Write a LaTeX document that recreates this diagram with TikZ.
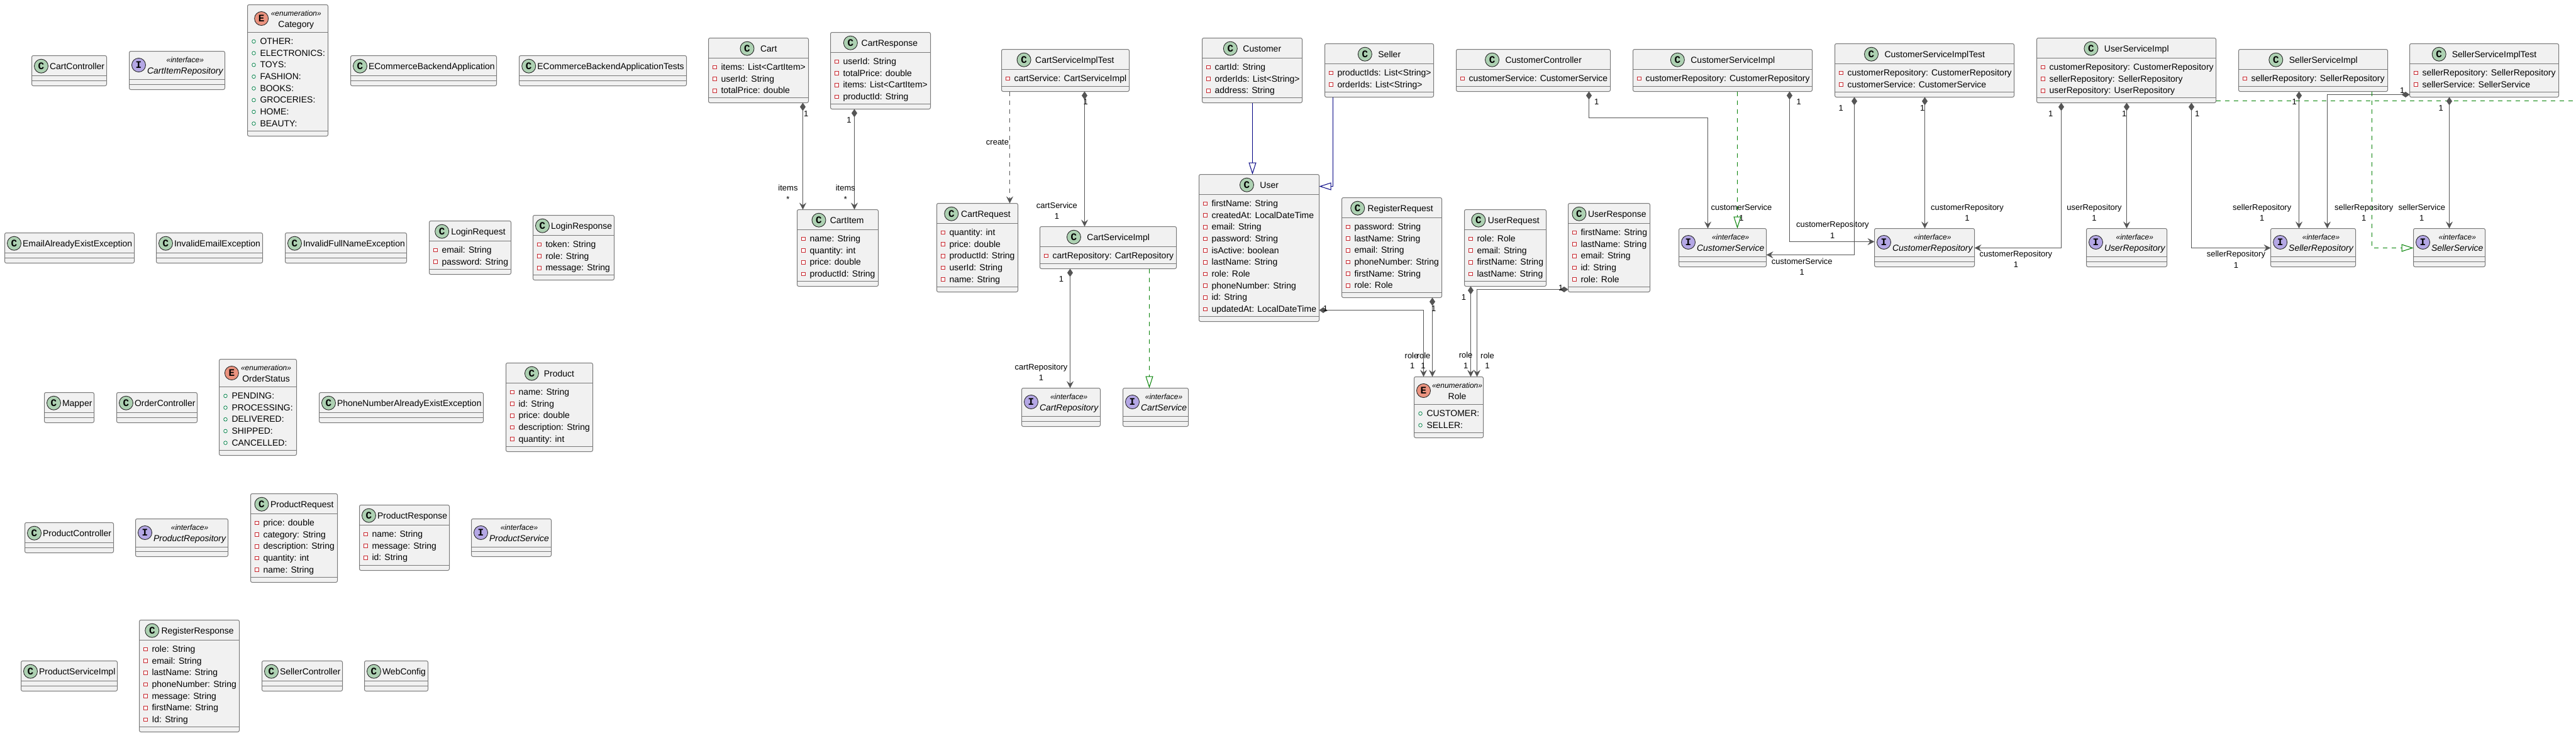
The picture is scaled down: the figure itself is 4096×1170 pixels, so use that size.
\documentclass[tikz,border=0pt]{standalone}
\usepackage{fontspec}
\setmainfont{Liberation Sans}
\newfontfamily\glyphfam{Liberation Mono}
\usetikzlibrary{arrows.meta}
\definecolor{boxfill}{HTML}{F1F1F1}
\definecolor{boxline}{HTML}{787878}
\definecolor{ln}{HTML}{555555}
\definecolor{cC}{HTML}{ADD1B2}
\definecolor{cI}{HTML}{B4A7E5}
\definecolor{cE}{HTML}{EB937F}
\definecolor{privred}{HTML}{C82930}
\definecolor{pubgreen}{HTML}{038048}
\definecolor{implgreen}{HTML}{008000}
\definecolor{extblue}{HTML}{000082}
\newsavebox\measbox
\newlength\measlen
\newcounter{lblno}
\newcommand{\measure}[2]{\pgfinterruptpicture\sbox\measbox{#2}\global\measlen=\wd\measbox\endpgfinterruptpicture\pgfmathsetmacro#1{\measlen}}
\tikzset{
  umlbox/.style={draw=boxline,fill=boxfill,line width=1pt,rounded corners=2.5pt,inner sep=0pt,outer sep=0pt,anchor=north west},
  umlsep/.style={draw=boxline,line width=1pt},
  classicon/.style={circle,draw=black!85,line width=0.9pt,minimum size=22pt,inner sep=0pt,outer sep=0pt,font=\glyphfam\bfseries\fontsize{16}{16}\selectfont},
  titletxt/.style={inner sep=0pt,outer sep=0pt,anchor=base,font=\fontsize{14}{16}\selectfont},
  stereotxt/.style={inner sep=0pt,outer sep=0pt,anchor=base,font=\itshape\fontsize{12}{14}\selectfont},
  attrtxt/.style={inner sep=0pt,outer sep=0pt,anchor=base west,font=\fontsize{14}{16}\selectfont},
  lbl/.style={inner sep=0pt,outer sep=0pt,anchor=center,text height=9.5pt,text depth=2.5pt,font=\fontsize{13}{15}\selectfont},
  conn/.style={draw=ln,line width=1pt},
  comp/.style={conn,{Diamond[length=13pt,width=9pt,fill=ln]}-{Stealth[length=11pt,width=11pt,inset=4pt,fill=ln]}},
  depend/.style={conn,dash pattern=on 7pt off 7pt,-{Stealth[length=11pt,width=11pt,inset=4pt,fill=ln]}},
  extendarrow/.style={draw=extblue,line width=1pt,-{Triangle[length=19pt,width=12pt,fill=white]}},
  implarrow/.style={draw=implgreen,line width=1pt,dash pattern=on 7pt off 7pt,-{Triangle[length=19pt,width=12pt,fill=white]}},
}
% id, kind, x1, top, x2, bottom, title, attributes
\newcommand{\umlclass}[8]{%
  \begingroup
  \ifx C#2%
    \def\hdr{32}\def\icony{16.7}\def\titley{22}\def\stereotext{}\def\titlefont{}%
  \else\ifx I#2%
    \def\hdr{45}\def\icony{22}\def\titley{36}\def\stereotext{«interface»}\def\titlefont{\itshape}%
  \else
    \def\hdr{44}\def\icony{22}\def\titley{36}\def\stereotext{«enumeration»}\def\titlefont{}%
  \fi\fi
  \measure\tw{\fontsize{14}{16}\selectfont\titlefont #7}%
  \measure\sw{\fontsize{12}{14}\selectfont\itshape\stereotext}%
  \pgfmathsetmacro\nw{max(\tw,\sw)}%
  \pgfmathsetmacro\xa{floor(#3)+0.5}%
  \pgfmathsetmacro\xb{floor(#5)+0.5}%
  \pgfmathsetmacro\ya{#4+0.2}%
  \pgfmathsetmacro\bxW{\xb-\xa}%
  \pgfmathsetmacro\bxH{#6-#4}%
  \pgfmathsetmacro\supp{max(0,\bxW-(32+\nw))}%
  \pgfmathsetmacro\hb{min(7.5,0.1*\supp)}%
  \pgfmathsetmacro\ha{(\supp-\hb)/2}%
  \pgfmathsetmacro\cx{\xa+\ha+15}%
  \pgfmathsetmacro\nx{\xa+\ha+28.5+\hb+\nw/2}%
  \node[umlbox,minimum width=\bxW pt,minimum height=\bxH pt] (#1) at (\xa,\ya) {};
  \draw[umlsep] ([yshift=-\hdr pt]#1.north west) -- ([yshift=-\hdr pt]#1.north east);
  \draw[umlsep] ([yshift=8pt]#1.south west) -- ([yshift=8pt]#1.south east);
  \node[classicon,fill=c#2] (#1-icon) at (\cx,\ya+\icony) {#2};
  \node[titletxt,font=\fontsize{14}{16}\selectfont\titlefont] (#1-title) at (\nx,\ya+\titley) {#7};
  \ifx C#2\else
    \node[stereotxt] (#1-stereo) at (\nx,\ya+17.5) {\stereotext};
  \fi
  \def\attrlist{#8}%
  \ifx\attrlist\empty\else
    \foreach \a [count=\i from 0] in {#8}{%
      \pgfmathsetmacro\by{\ya+\hdr+19+18.67*\i}%
      \node[attrtxt] (#1-a\i) at (\xa+20,\by) {\a};
      \ifx E#2%
        \draw[pubgreen,line width=0.8pt,fill=white] (\xa+10,\by-4.6) circle (2.8pt);
      \else
        \draw[privred,line width=0.8pt,fill=white] (\xa+7.2,\by-7.4) rectangle (\xa+12.8,\by-1.8);
      \fi
    }%
  \fi
  \endgroup
}
\newcommand{\lab}[3]{\stepcounter{lblno}\node[lbl] (lab\arabic{lblno}) at (#1,#2) {#3};}
\begin{document}
\begin{tikzpicture}[x=1pt,y=-1pt]
\path[use as bounding box] (0,0) rectangle (4096,1170);
% column of isolated classes
\umlclass{CartController}{C}{50.5}{88.3}{169}{136.3}{CartController}{}
\umlclass{CartItemRepository}{I}{205}{81.3}{357}{142.3}{CartItemRepository}{}
\umlclass{Category}{E}{393}{7.3}{521}{216.3}{Category}{OTHER:,ELECTRONICS:,TOYS:,FASHION:,BOOKS:,GROCERIES:,HOME:,BEAUTY:}
\umlclass{EBA}{C}{557}{88.3}{789}{136.3}{ECommerceBackendApplication}{}
\umlclass{EBAT}{C}{825}{88.3}{1091.5}{136.3}{ECommerceBackendApplicationTests}{}
\umlclass{EmailEx}{C}{7.7}{370.3}{213.6}{418.3}{EmailAlreadyExistException}{}
\umlclass{InvEmail}{C}{248.7}{370.3}{417.1}{418.3}{InvalidEmailException}{}
\umlclass{InvName}{C}{453.4}{370.3}{646.7}{418.3}{InvalidFullNameException}{}
\umlclass{LoginRequest}{C}{682.4}{351.3}{812.5}{436.3}{LoginRequest}{email: String,password: String}
\umlclass{LoginResponse}{C}{847.6}{342.3}{976.4}{445.3}{LoginResponse}{token: String,role: String,message: String}
\umlclass{Mapper}{C}{70.8}{624.3}{149.2}{672.3}{Mapper}{}
\umlclass{OrderController}{C}{185.6}{624.3}{313.1}{672.3}{OrderController}{}
\umlclass{OrderStatus}{E}{348.9}{571.3}{471.3}{724.3}{OrderStatus}{PENDING:,PROCESSING:,DELIVERED:,SHIPPED:,CANCELLED:}
\umlclass{PhoneEx}{C}{507.7}{624.3}{768.5}{672.3}{PhoneNumberAlreadyExistException}{}
\umlclass{Product}{C}{804.8}{577.3}{942.6}{718.3}{Product}{name: String,id: String,price: double,description: String,quantity: int}
\umlclass{ProductController}{C}{39.5}{831.3}{180.5}{879.3}{ProductController}{}
\umlclass{ProductRepository}{I}{215.6}{825.3}{362.9}{885.3}{ProductRepository}{}
\umlclass{ProductRequest}{C}{398.6}{785.3}{536.4}{926.3}{ProductRequest}{price: double,category: String,description: String,quantity: int,name: String}
\umlclass{ProductResponse}{C}{571.4}{803.3}{714.3}{907.3}{ProductResponse}{name: String,message: String,id: String}
\umlclass{ProductService}{I}{749.4}{825.3}{876.3}{885.3}{ProductService}{}
\umlclass{ProductServiceImpl}{C}{33.8}{1051.3}{186.9}{1099.3}{ProductServiceImpl}{}
\umlclass{RegisterResponse}{C}{221.9}{986.3}{380.7}{1164.3}{RegisterResponse}{role: String,email: String,lastName: String,phoneNumber: String,message: String,firstName: String,Id: String}
\umlclass{SellerController}{C}{416.5}{1051.3}{544.6}{1099.3}{SellerController}{}
\umlclass{WebConfig}{C}{579.7}{1051.3}{680.5}{1099.3}{WebConfig}{}
% connected classes
\umlclass{Cart}{C}{1126.8}{60.3}{1285.6}{163.3}{Cart}{items: List<CartItem>,userId: String,totalPrice: double}
\umlclass{CartResponse}{C}{1320.7}{51.3}{1479.5}{173.3}{CartResponse}{userId: String,totalPrice: double,items: List<CartItem>,productId: String}
\umlclass{CartServiceImplTest}{C}{1592.3}{78.3}{1795.2}{145.3}{CartServiceImplTest}{cartService: CartServiceImpl}
\umlclass{CartItem}{C}{1267.7}{333.3}{1396.6}{455.3}{CartItem}{name: String,quantity: int,price: double,productId: String}
\umlclass{CartRequest}{C}{1489.7}{323.3}{1618.5}{464.3}{CartRequest}{quantity: int,price: double,productId: String,userId: String,name: String}
\umlclass{CartServiceImpl}{C}{1653.6}{360.3}{1870.4}{427.3}{CartServiceImpl}{cartRepository: CartRepository}
\umlclass{CartRepository}{I}{1624.9}{617.3}{1749.2}{678.3}{CartRepository}{}
\umlclass{CartService}{I}{1785}{617.3}{1889.5}{678.3}{CartService}{}
\umlclass{Customer}{C}{1911.9}{60.3}{2070.7}{163.3}{Customer}{cartId: String,orderIds: List<String>,address: String}
\umlclass{Seller}{C}{2106.4}{69.3}{2279.2}{154.3}{Seller}{productIds: List<String>,orderIds: List<String>}
\umlclass{User}{C}{1906.8}{277.3}{2097.4}{511.3}{User}{firstName: String,createdAt: LocalDateTime,email: String,password: String,isActive: boolean,lastName: String,role: Role,phoneNumber: String,id: String,updatedAt: LocalDateTime}
\umlclass{RegisterRequest}{C}{2133.5}{314.3}{2292.3}{473.3}{RegisterRequest}{password: String,lastName: String,email: String,phoneNumber: String,firstName: String,role: Role}
\umlclass{UserRequest}{C}{2328}{333.3}{2458}{455.3}{UserRequest}{role: Role,email: String,firstName: String,lastName: String}
\umlclass{UserResponse}{C}{2493.9}{323.3}{2623.3}{464.3}{UserResponse}{firstName: String,lastName: String,email: String,id: String,role: Role}
\umlclass{Role}{E}{2248.3}{599.3}{2358.7}{696.3}{Role}{CUSTOMER:,SELLER:}
\umlclass{CustomerController}{C}{2315.6}{78.3}{2560.5}{145.3}{CustomerController}{customerService: CustomerService}
\umlclass{CustomerServiceImpl}{C}{2596.8}{78.3}{2881.2}{145.3}{CustomerServiceImpl}{customerRepository: CustomerRepository}
\umlclass{CustomerServiceImplTest}{C}{2917.6}{69.3}{3202.3}{154.3}{CustomerServiceImplTest}{customerRepository: CustomerRepository,customerService: CustomerService}
\umlclass{CustomerService}{I}{2669.5}{363.3}{2808.5}{424.3}{CustomerService}{}
\umlclass{CustomerRepository}{I}{2980.7}{363.3}{3139.4}{424.3}{CustomerRepository}{}
\umlclass{UserServiceImpl}{C}{3238.5}{60.3}{3523.7}{163.3}{UserServiceImpl}{customerRepository: CustomerRepository,sellerRepository: SellerRepository,userRepository: UserRepository}
\umlclass{SellerServiceImpl}{C}{3559.9}{78.3}{3796.2}{145.3}{SellerServiceImpl}{sellerRepository: SellerRepository}
\umlclass{SellerServiceImplTest}{C}{3831.7}{69.3}{4068}{154.3}{SellerServiceImplTest}{sellerRepository: SellerRepository,sellerService: SellerService}
\umlclass{UserRepository}{I}{3317.9}{363.3}{3445.5}{424.3}{UserRepository}{}
\umlclass{SellerRepository}{I}{3610.7}{363.3}{3745.4}{424.3}{SellerRepository}{}
\umlclass{SellerService}{I}{3837.5}{363.3}{3951.2}{424.3}{SellerService}{}
% connectors
\draw[comp] (1276.5,0 |- Cart.south) -- (1276.5,0 |- CartItem.north);
\draw[comp] (1358.5,0 |- CartResponse.south) -- (1358.5,0 |- CartItem.north);
\draw[depend] (1605.5,0 |- CartServiceImplTest.south) -- (1605.5,0 |- CartRequest.north);
\draw[comp] (1724.5,0 |- CartServiceImplTest.south) -- (1724.5,0 |- CartServiceImpl.north);
\draw[extendarrow] (1991.5,0 |- Customer.south) -- (1991.5,0 |- User.north);
\draw[extendarrow] (2119.5,0 |- Seller.south) |- (User.east |- 0,296.5);
\draw[comp] (1701.5,0 |- CartServiceImpl.south) -- (1701.5,0 |- CartRepository.north);
\draw[implarrow] (1827.5,0 |- CartServiceImpl.south) -- (1827.5,0 |- CartService.north);
\draw[comp] (2526.5,0 |- CustomerController.south) -- ++(0,42) -| (2715.5,0 |- CustomerService.north);
\draw[implarrow] (2762.5,0 |- CustomerServiceImpl.south) -- (2762.5,0 |- CustomerService.north);
\draw[comp] (2845.5,0 |- CustomerServiceImpl.south) |- (CustomerRepository.west |- 0,384.5);
\draw[comp] (2948.5,0 |- CustomerServiceImplTest.south) |- (CustomerService.east |- 0,405.5);
\draw[comp] (3060.5,0 |- CustomerServiceImplTest.south) -- (3060.5,0 |- CustomerRepository.north);
\draw[comp] (3277.5,0 |- UserServiceImpl.south) |- (CustomerRepository.east |- 0,394.5);
\draw[comp] (3381.5,0 |- UserServiceImpl.south) -- (3381.5,0 |- UserRepository.north);
\draw[comp] (3484.5,0 |- UserServiceImpl.south) |- (SellerRepository.west |- 0,394.5);
\coordinate (offpage) at (4096,160.5);
\draw[conn,draw=implgreen,dash pattern=on 7pt off 7pt] (UserServiceImpl.east |- offpage) -- (offpage);
\draw[comp] (3655.5,0 |- SellerServiceImpl.south) -- (3655.5,0 |- SellerRepository.north);
\draw[comp] (SellerServiceImplTest.west |- 0,150.5) -| (3700.5,0 |- SellerRepository.north);
\draw[implarrow] (3771.5,0 |- SellerServiceImpl.south) |- (SellerService.west |- 0,394.5);
\draw[comp] (3894.5,0 |- SellerServiceImplTest.south) -- (3894.5,0 |- SellerService.north);
\draw[comp] (User.east |- 0,493.5) -| (2263.5,0 |- Role.north);
\draw[comp] (2277.5,0 |- RegisterRequest.south) -- (2277.5,0 |- Role.north);
\draw[comp] (2338.5,0 |- UserRequest.south) -- (2338.5,0 |- Role.north);
\draw[comp] (UserResponse.west |- 0,460.5) -| (2348.5,0 |- Role.north);
% connector labels
\lab{1281.8}{181.7}{1}\lab{1253}{299.7}{items}\lab{1253}{318}{*}
\lab{1350}{191.7}{1}\lab{1344.3}{299.7}{items}\lab{1344.3}{318}{*}
\lab{1586}{227}{create}
\lab{1726.3}{162.7}{1}\lab{1680.4}{327.7}{cartService}\lab{1680.4}{344.7}{1}
\lab{1687.4}{444.7}{1}\lab{1655.5}{585}{cartRepository}\lab{1655.5}{601.7}{1}
\lab{2538.8}{162.7}{1}\lab{2769}{330.7}{customerService}\lab{2769}{348}{1}
\lab{2860.2}{162.7}{1}\lab{2913.8}{358}{customerRepository}\lab{2913.8}{375.7}{1}
\lab{2927.2}{172.7}{1}\lab{2865.3}{416.7}{customerService}\lab{2865.3}{433.7}{1}
\lab{3056.6}{172.7}{1}\lab{3128}{331}{customerRepository}\lab{3128}{347.7}{1}
\lab{3260.7}{181.7}{1}\lab{3205.4}{405}{customerRepository}\lab{3205.4}{421.7}{1}
\lab{3377.6}{181.7}{1}\lab{3330}{331}{userRepository}\lab{3330}{347.7}{1}
\lab{3493.8}{181.7}{1}\lab{3555.4}{405}{sellerRepository}\lab{3555.4}{422.7}{1}
\lab{3648.2}{162.7}{1}\lab{3596.7}{331}{sellerRepository}\lab{3596.7}{347.7}{1}
\lab{3819.7}{145}{1}\lab{3758.7}{331}{sellerRepository}\lab{3758.7}{347.7}{1}
\lab{3881.3}{172.7}{1}\lab{3850.8}{331}{sellerService}\lab{3850.8}{347.7}{1}
\lab{2107.4}{491.7}{1}\lab{2244.5}{566.7}{role}\lab{2245.8}{583.3}{1}
\lab{2279.6}{491.7}{1}\lab{2263.6}{566.7}{role}\lab{2263}{583.3}{1}
\lab{2327.4}{473.7}{1}\lab{2330.6}{566}{role}\lab{2330.6}{583.3}{1}
\lab{2481.8}{459}{1}\lab{2365}{566.7}{role}\lab{2365}{583.3}{1}
\end{tikzpicture}
\end{document}
